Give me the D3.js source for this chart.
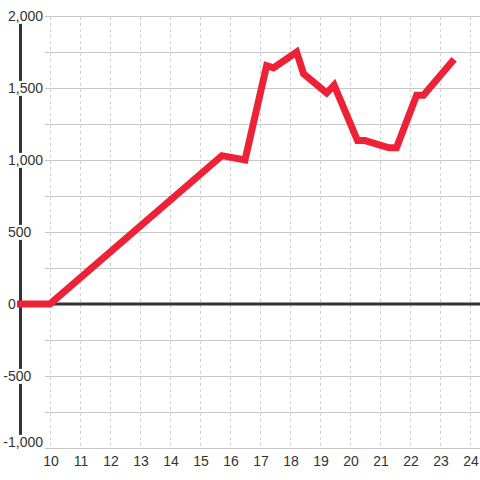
<!DOCTYPE html>
<html lang="en">
<head>
<meta charset="UTF-8">
<title>line</title>
<script src="https://cdn.jsdelivr.net/npm/d3@7/dist/d3.min.js"></script>
<style>
  body { margin: 0; background: #fff; }
  text { font-family: "Liberation Sans", Arial, sans-serif; font-size: 14px; fill: #333; }
</style>
</head>
<body>
<script>
    // data (hours of day, value)
    var hours  = [8.9, 10, 15.73, 16.5, 17.22, 17.45, 18.22, 18.45, 19.22, 19.47, 20.25, 20.5, 21.3, 21.55, 22.22, 22.45, 23.47];
    var values = [0, 0, 1030, 1000, 1655, 1640, 1750, 1600, 1465, 1520, 1135, 1135, 1085, 1085, 1450, 1450, 1700];
    var xTicks = [10, 11, 12, 13, 14, 15, 16, 17, 18, 19, 20, 21, 22, 23, 24];
    var yTicks = [-1000, -500, 0, 500, 1000, 1500, 2000];
    var yGrid  = d3.range(-1000, 2001, 250);

    var width = 480, height = 480;
    var svg = d3.select("body").append("svg")
        .attr("width", width)
        .attr("height", height);

    var x = d3.scaleLinear().domain([10, 24]).range([50, 470]);
    var y = d3.scaleLinear().domain([-1000, 2000]).range([448, 16]);

    // horizontal grid
    svg.selectAll(".hgrid").data(yGrid).enter().append("line")
        .attr("x1", 45).attr("x2", width)
        .attr("y1", function (d) { return y(d) + 0.5; })
        .attr("y2", function (d) { return y(d) + 0.5; })
        .attr("stroke", "#c8c8c8").attr("stroke-width", 1);

    // vertical dotted grid
    svg.selectAll(".vgrid").data(xTicks).enter().append("line")
        .attr("x1", function (d) { return Math.round(x(d)) + 0.5; })
        .attr("x2", function (d) { return Math.round(x(d)) + 0.5; })
        .attr("y1", 17).attr("y2", 448)
        .attr("stroke", "#cfcfcf").attr("stroke-width", 1)
        .attr("stroke-dasharray", "3,3");

    // zero line
    svg.append("line")
        .attr("x1", 17).attr("x2", width)
        .attr("y1", y(0)).attr("y2", y(0))
        .attr("stroke", "#333").attr("stroke-width", 3);

    // y axis bar
    svg.append("line")
        .attr("x1", 20.5).attr("x2", 20.5)
        .attr("y1", 16).attr("y2", 448)
        .attr("stroke", "#333").attr("stroke-width", 3);

    // y labels with white background (digits start at x=8, minus hangs left)
    var yl = svg.selectAll(".ylab").data(yTicks).enter().append("g");
    yl.append("text")
        .attr("x", 8)
        .attr("y", function (d) { return Math.min(y(d), 442); })
        .attr("dy", "0.35em")
        .text(function (d) { return d3.format(",")(d).replace("\u2212", "-"); });
    yl.each(function (d) {
        var g = d3.select(this);
        var t = g.select("text");
        if (d < 0) t.attr("x", 8 - t.node().getSubStringLength(0, 1));
        var b = t.node().getBBox();
        g.insert("rect", "text")
            .attr("x", b.x - 1).attr("y", b.y + 1)
            .attr("width", b.width + 2).attr("height", b.height - 1)
            .attr("fill", "#fff");
    });

    // data line
    var line = d3.line()
        .x(function (d) { return x(d[0]); })
        .y(function (d) { return y(d[1]); });
    svg.append("path")
        .datum(d3.zip(hours, values))
        .attr("d", line)
        .attr("fill", "none")
        .attr("stroke", "#ee2236")
        .attr("stroke-width", 7)
        .attr("stroke-linejoin", "miter");

    // x labels
    svg.selectAll(".xlab").data(xTicks).enter().append("text")
        .attr("x", function (d) { return x(d) + 1; })
        .attr("y", 461)
        .attr("dy", "0.35em")
        .attr("text-anchor", "middle")
        .text(function (d) { return d; });
</script>
</body>
</html>
